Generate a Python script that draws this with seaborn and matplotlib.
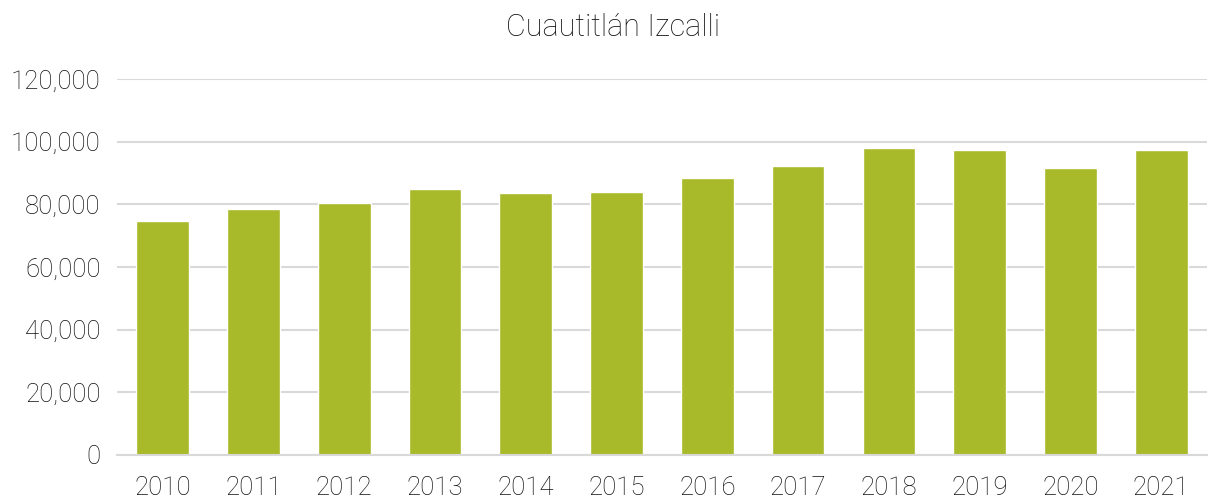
import matplotlib
matplotlib.use('Agg')
import matplotlib.pyplot as plt
import seaborn as sns
import pandas as pd
from matplotlib.ticker import FuncFormatter

years = ['2010', '2011', '2012', '2013', '2014', '2015',
         '2016', '2017', '2018', '2019', '2020', '2021']
values = [74600, 78400, 80300, 84800, 83500, 84000,
          88500, 92300, 98100, 97400, 91700, 97400]

df = pd.DataFrame({'year': years, 'value': values})

sns.set_theme(style='white')
plt.rcParams['font.family'] = ['Roboto', 'DejaVu Sans']
plt.rcParams['font.weight'] = 'light'

fig = plt.figure(figsize=(12.09, 5), dpi=100)
ax = fig.add_axes([0.097, 0.09, 0.901, 0.752])
ax.grid(axis='y', color='#d9d9d9', linewidth=1.5, zorder=0)
ax.set_axisbelow(True)

sns.barplot(data=df, x='year', y='value', color='#a8b92a', width=0.58,
            saturation=1, ax=ax, zorder=2)

ax.set_ylim(0, 120000)
ax.set_yticks(range(0, 120001, 20000))
ax.yaxis.set_major_formatter(FuncFormatter(lambda v, p: f'{int(v):,}'))
ax.set_xlabel('')
ax.set_ylabel('')
for s in ['top', 'right', 'left']:
    ax.spines[s].set_visible(False)
ax.spines['bottom'].set_color('#d9d9d9')
ax.spines['bottom'].set_linewidth(1.5)
ax.tick_params(axis='both', length=0, labelsize=18.5, colors='#111111')
ax.tick_params(axis='y', pad=12)
ax.tick_params(axis='x', pad=15)

# title is centred on the figure, not the axes
fig.text(0.507, 0.944, 'Cuautitlán Izcalli', fontsize=22, color='#111111',
         fontweight='light', ha='center', va='center')

fig.savefig('out.png', dpi=100)
